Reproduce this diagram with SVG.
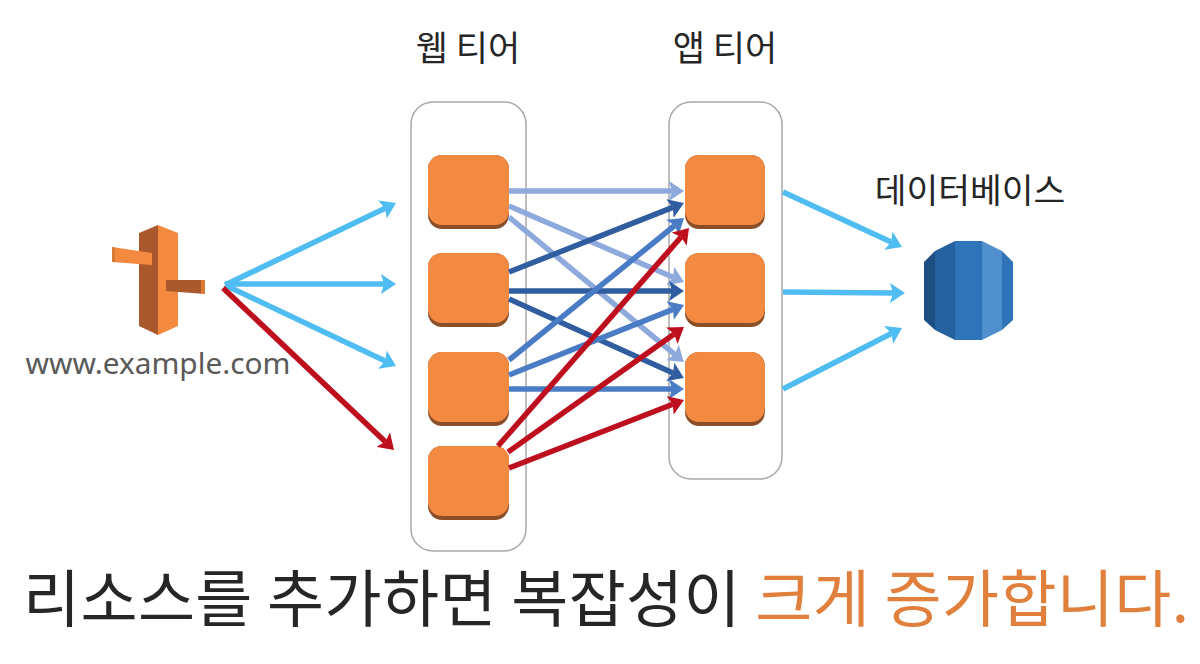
<svg xmlns="http://www.w3.org/2000/svg" width="1200" height="664" viewBox="0 0 1200 664">
<style>
text{font-family:"Noto Sans CJK KR","Noto Sans",sans-serif;fill:#262626}
.tier{fill:#fff;stroke:#a9a9a9;stroke-width:1.5}
.sh{fill:#8a4f28}.bx{fill:#f38a42}
.c{fill:none;stroke-width:5.5}
.sky{stroke:#4fbcf2;marker-end:url(#mSky)}
.red{stroke:#bd0f1e;marker-end:url(#mRed)}
.li{stroke:#8ea9dc;marker-end:url(#mLi)}
.dk{stroke:#2f5d9f;marker-end:url(#mDk)}
.md{stroke:#4a7cc6;marker-end:url(#mMd)}
</style>
<defs>
<marker id="mSky" markerUnits="userSpaceOnUse" markerWidth="16" markerHeight="20" refX="3" refY="10" orient="auto"><path d="M0 0L15 10L0 20L3 10Z" fill="#4fbcf2"/></marker>
<marker id="mRed" markerUnits="userSpaceOnUse" markerWidth="16" markerHeight="20" refX="3" refY="10" orient="auto"><path d="M0 0L15 10L0 20L3 10Z" fill="#bd0f1e"/></marker>
<marker id="mLi" markerUnits="userSpaceOnUse" markerWidth="16" markerHeight="20" refX="3" refY="10" orient="auto"><path d="M0 0L15 10L0 20L3 10Z" fill="#8ea9dc"/></marker>
<marker id="mDk" markerUnits="userSpaceOnUse" markerWidth="16" markerHeight="20" refX="3" refY="10" orient="auto"><path d="M0 0L15 10L0 20L3 10Z" fill="#2f5d9f"/></marker>
<marker id="mMd" markerUnits="userSpaceOnUse" markerWidth="16" markerHeight="20" refX="3" refY="10" orient="auto"><path d="M0 0L15 10L0 20L3 10Z" fill="#4a7cc6"/></marker>
</defs>
<rect width="1200" height="664" fill="#fff"/>
<g id="web-tier"><rect class="tier" x="411" y="102" width="115" height="449" rx="22"/><text x="468" y="61" font-size="35" text-anchor="middle">웹 티어</text></g>
<g id="app-tier"><rect class="tier" x="669" y="102" width="113" height="377" rx="22"/><text x="725" y="61" font-size="35" text-anchor="middle">앱 티어</text></g>
<g id="web-1"><rect class="sh" x="428" y="155" width="81" height="74" rx="14"/><rect class="bx" x="428" y="155" width="81" height="70" rx="14"/></g>
<g id="web-2"><rect class="sh" x="428" y="253" width="81" height="74" rx="14"/><rect class="bx" x="428" y="253" width="81" height="70" rx="14"/></g>
<g id="web-3"><rect class="sh" x="428" y="352" width="81" height="74" rx="14"/><rect class="bx" x="428" y="352" width="81" height="70" rx="14"/></g>
<g id="web-4"><rect class="sh" x="428" y="446" width="81" height="74" rx="14"/><rect class="bx" x="428" y="446" width="81" height="70" rx="14"/></g>
<g id="app-1"><rect class="sh" x="685" y="155" width="80" height="74" rx="14"/><rect class="bx" x="685" y="155" width="80" height="70" rx="14"/></g>
<g id="app-2"><rect class="sh" x="685" y="253" width="80" height="74" rx="14"/><rect class="bx" x="685" y="253" width="80" height="70" rx="14"/></g>
<g id="app-3"><rect class="sh" x="685" y="352" width="80" height="74" rx="14"/><rect class="bx" x="685" y="352" width="80" height="70" rx="14"/></g>
<g id="connectors">
<path class="c sky" d="M225 285L385.2 208.2"/>
<path class="c sky" d="M225 284H384"/>
<path class="c sky" d="M225 285L385.2 360.9"/>
<path class="c red" d="M223 288L385.3 441.7"/>
<path class="c li" d="M509 191H672"/>
<path class="c li" d="M509 206L673 277.2"/>
<path class="c li" d="M509 217L674.7 354.4"/>
<path class="c dk" d="M509 272L672.8 207.4"/>
<path class="c dk" d="M509 291H672"/>
<path class="c dk" d="M509 299L673 373.1"/>
<path class="c md" d="M509 360L674.7 225.5"/>
<path class="c md" d="M509 375L672.9 309.4"/>
<path class="c md" d="M509 389H672"/>
<path class="c red" d="M498 446L681.1 237"/>
<path class="c red" d="M508 452L674.2 334"/>
<path class="c red" d="M509 468L672.8 404.3"/>
<path class="c sky" d="M783 192L891.1 242"/>
<path class="c sky" d="M783 292L893 293"/>
<path class="c sky" d="M783 389L891.3 333.5"/>
</g>
<g id="route53">
<path d="M139 233L158 225V335L139 326Z" fill="#a9592b"/>
<path d="M158 225L178 233V326L158 335Z" fill="#f38a3f"/>
<path d="M112 247L152 253V265L112 262Z" fill="#f38a3f"/>
<path d="M112 247L115 247.5V262.2L112 262Z" fill="#d97c38"/>
<path d="M166 280H205V294L166 291Z" fill="#a9592b"/>
<path d="M201 280H205V294H201Z" fill="#d97c38"/>
<text x="158" y="374" font-size="29" text-anchor="middle" textLength="265" lengthAdjust="spacingAndGlyphs" style="font-family:'Noto Sans',sans-serif;fill:#595959">www.example.com</text>
</g>
<g id="database">
<path d="M924 262L935 251V330L924 320Z" fill="#1e4f82"/>
<path d="M935 251L955 241V340L935 330Z" fill="#25609f"/>
<path d="M955 241H982V340H955Z" fill="#2f73b8"/>
<path d="M982 241L1002 251V330L982 340Z" fill="#4f8fcd"/>
<path d="M1002 251L1013 262V320L1002 330Z" fill="#2f73b8"/>
<text x="970" y="203" font-size="34.5" text-anchor="middle">데이터베이스</text>
</g>
<text id="caption" x="23" y="622" font-size="62" textLength="1166">리소스를 추가하면 복잡성이 <tspan style="fill:#e0803c">크게 증가합니다.</tspan></text>
</svg>
